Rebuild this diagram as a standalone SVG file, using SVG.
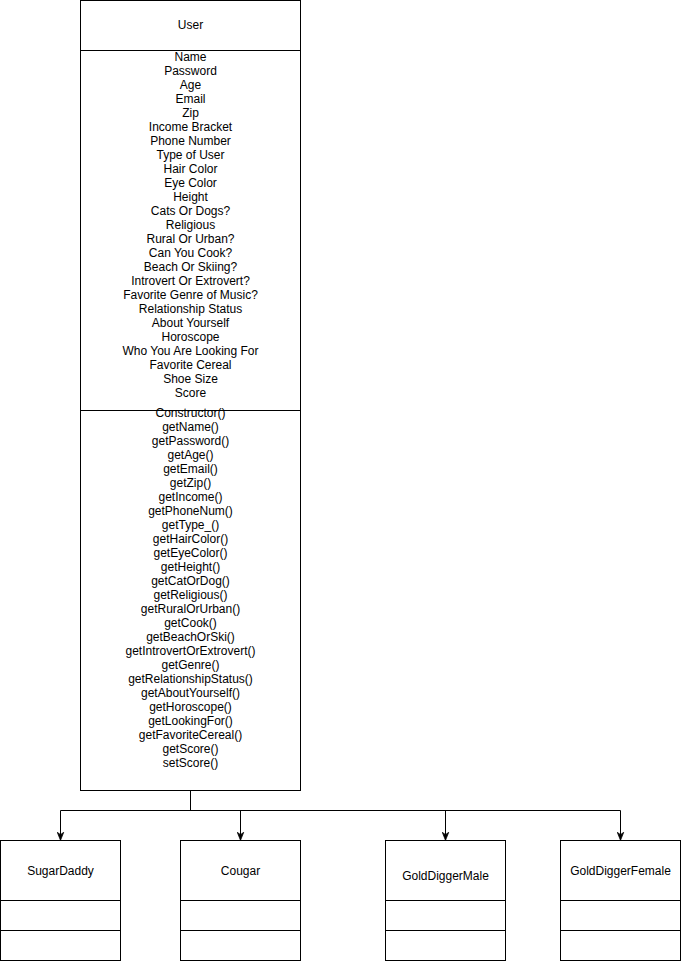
<svg xmlns="http://www.w3.org/2000/svg" width="681" height="961" viewBox="0 0 681 961">
<defs>
<style>
.box{fill:#fff;stroke:#000;stroke-width:1}
.ln{fill:none;stroke:#000;stroke-width:1}
text{font-family:"Liberation Sans",Arial,sans-serif;font-size:12px;fill:#000;text-anchor:middle}
</style>
<marker id="arr" viewBox="0 0 10 10" refX="9" refY="5" markerWidth="8" markerHeight="8" markerUnits="userSpaceOnUse" orient="auto">
<path d="M0,1 L10,5 L0,9 L3,5 Z" fill="#000" stroke="#000" stroke-width="1"/>
</marker>
</defs>
<rect width="681" height="961" fill="#fff"/>
<g id="connectors">
<path class="ln" d="M190.5,790.5 V810.5 M60.5,810.5 H620.5"/>
<path class="ln" d="M60.5,810.5 V839.5" marker-end="url(#arr)"/>
<path class="ln" d="M240.5,810.5 V839.5" marker-end="url(#arr)"/>
<path class="ln" d="M445.5,810.5 V839.5" marker-end="url(#arr)"/>
<path class="ln" d="M620.5,810.5 V839.5" marker-end="url(#arr)"/>
</g>
<g id="User">
<rect class="box" x="80.5" y="0.5" width="220" height="790"/>
<path class="ln" d="M80.5,50.5 H300.5 M80.5,410.5 H300.5"/>
<text x="190.5" y="29">User</text>
<text x="190.5" y="61">Name</text>
<text x="190.5" y="75">Password</text>
<text x="190.5" y="89">Age</text>
<text x="190.5" y="103">Email</text>
<text x="190.5" y="117">Zip</text>
<text x="190.5" y="131">Income Bracket</text>
<text x="190.5" y="145">Phone Number</text>
<text x="190.5" y="159">Type of User</text>
<text x="190.5" y="173">Hair Color</text>
<text x="190.5" y="187">Eye Color</text>
<text x="190.5" y="201">Height</text>
<text x="190.5" y="215">Cats Or Dogs?</text>
<text x="190.5" y="229">Religious</text>
<text x="190.5" y="243">Rural Or Urban?</text>
<text x="190.5" y="257">Can You Cook?</text>
<text x="190.5" y="271">Beach Or Skiing?</text>
<text x="190.5" y="285">Introvert Or Extrovert?</text>
<text x="190.5" y="299">Favorite Genre of Music?</text>
<text x="190.5" y="313">Relationship Status</text>
<text x="190.5" y="327">About Yourself</text>
<text x="190.5" y="341">Horoscope</text>
<text x="190.5" y="355">Who You Are Looking For</text>
<text x="190.5" y="369">Favorite Cereal</text>
<text x="190.5" y="383">Shoe Size</text>
<text x="190.5" y="397">Score</text>
<text x="190.5" y="417">Constructor()</text>
<text x="190.5" y="431">getName()</text>
<text x="190.5" y="445">getPassword()</text>
<text x="190.5" y="459">getAge()</text>
<text x="190.5" y="473">getEmail()</text>
<text x="190.5" y="487">getZip()</text>
<text x="190.5" y="501">getIncome()</text>
<text x="190.5" y="515">getPhoneNum()</text>
<text x="190.5" y="529">getType_()</text>
<text x="190.5" y="543">getHairColor()</text>
<text x="190.5" y="557">getEyeColor()</text>
<text x="190.5" y="571">getHeight()</text>
<text x="190.5" y="585">getCatOrDog()</text>
<text x="190.5" y="599">getReligious()</text>
<text x="190.5" y="613">getRuralOrUrban()</text>
<text x="190.5" y="627">getCook()</text>
<text x="190.5" y="641">getBeachOrSki()</text>
<text x="190.5" y="655">getIntrovertOrExtrovert()</text>
<text x="190.5" y="669">getGenre()</text>
<text x="190.5" y="683">getRelationshipStatus()</text>
<text x="190.5" y="697">getAboutYourself()</text>
<text x="190.5" y="711">getHoroscope()</text>
<text x="190.5" y="725">getLookingFor()</text>
<text x="190.5" y="739">getFavoriteCereal()</text>
<text x="190.5" y="753">getScore()</text>
<text x="190.5" y="767">setScore()</text>
</g>
<g id="SugarDaddy">
<rect class="box" x="0.5" y="840.5" width="120" height="120"/>
<path class="ln" d="M0.5,900.5 H120.5 M0.5,930.5 H120.5"/>
<text x="60.5" y="875">SugarDaddy</text>
</g>
<g id="Cougar">
<rect class="box" x="180.5" y="840.5" width="120" height="120"/>
<path class="ln" d="M180.5,900.5 H300.5 M180.5,930.5 H300.5"/>
<text x="240.5" y="875">Cougar</text>
</g>
<g id="GoldDiggerMale">
<rect class="box" x="385.5" y="840.5" width="120" height="120"/>
<path class="ln" d="M385.5,900.5 H505.5 M385.5,930.5 H505.5"/>
<text x="445.5" y="880">GoldDiggerMale</text>
</g>
<g id="GoldDiggerFemale">
<rect class="box" x="560.5" y="840.5" width="120" height="120"/>
<path class="ln" d="M560.5,900.5 H680.5 M560.5,930.5 H680.5"/>
<text x="620.5" y="875">GoldDiggerFemale</text>
</g>
</svg>
